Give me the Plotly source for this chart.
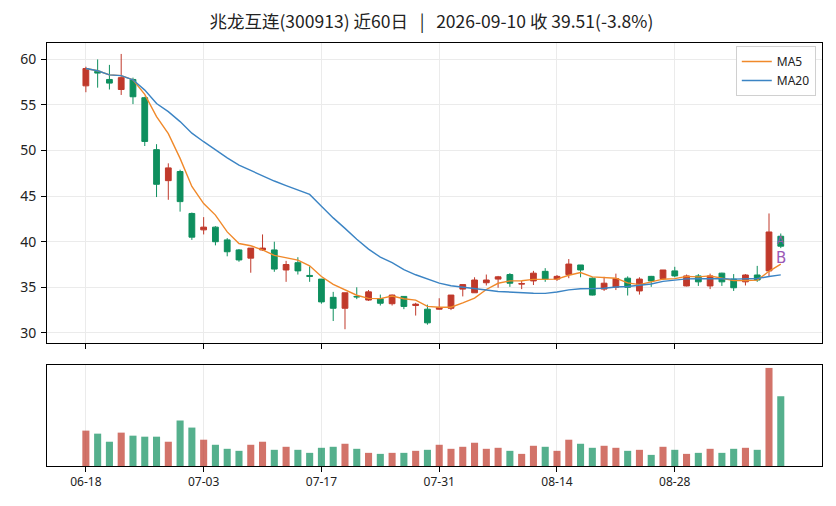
import pandas as pd
import plotly.graph_objects as go
from plotly.subplots import make_subplots

# 交易日 (06-19 端午休市)
dates = ["06-18", "06-22", "06-23", "06-24", "06-25", "06-26", "06-29", "06-30",
         "07-01", "07-02", "07-03", "07-06", "07-07", "07-08", "07-09", "07-10",
         "07-13", "07-14", "07-15", "07-16", "07-17", "07-20", "07-21", "07-22",
         "07-23", "07-24", "07-27", "07-28", "07-29", "07-30", "07-31", "08-03",
         "08-04", "08-05", "08-06", "08-07", "08-10", "08-11", "08-12", "08-13",
         "08-14", "08-17", "08-18", "08-19", "08-20", "08-21", "08-24", "08-25",
         "08-26", "08-27", "08-28", "08-31", "09-01", "09-02", "09-03", "09-04",
         "09-07", "09-08", "09-09", "09-10"]

opens = [57.1, 58.7, 57.8, 56.7, 57.8, 55.8, 50.1, 46.7, 47.7, 43.1,
         41.3, 41.6, 40.2, 39.1, 38.2, 39.1, 39.1, 36.9, 37.7, 36.3,
         35.9, 33.9, 32.7, 34.0, 33.6, 33.75, 33.2, 34.0, 33.0, 32.6,
         32.6, 32.7, 34.8, 34.4, 35.5, 35.9, 36.4, 35.35, 35.7, 36.75,
         35.9, 36.4, 37.45, 36.0, 34.8, 35.0, 36.0, 34.6, 36.2, 35.95,
         36.8, 35.15, 36.25, 35.15, 36.55, 35.9, 35.6, 36.35, 36.8, 40.6]
highs = [59.2, 60.0, 59.4, 60.6, 58.0, 55.9, 50.7, 48.6, 47.9, 43.2,
         42.7, 41.7, 40.4, 39.2, 39.3, 40.8, 40.0, 37.9, 38.3, 37.3,
         35.9, 34.5, 34.4, 35.0, 34.7, 34.2, 34.2, 34.0, 33.3, 33.1,
         33.8, 34.15, 35.3, 36.1, 36.4, 36.25, 36.55, 35.7, 36.8, 37.1,
         36.35, 38.1, 37.45, 36.1, 36.15, 36.5, 36.2, 36.1, 36.25, 36.9,
         37.25, 36.4, 36.45, 36.5, 36.6, 36.45, 36.45, 37.35, 43.1, 40.9]
lows = [56.4, 56.9, 56.7, 56.1, 55.1, 50.5, 44.9, 44.6, 43.3, 40.2,
        40.8, 39.6, 38.4, 37.8, 36.6, 39.0, 36.7, 35.6, 36.4, 35.6,
        33.2, 31.3, 30.4, 33.7, 33.5, 33.0, 33.0, 32.6, 31.9, 30.9,
        32.55, 32.5, 34.0, 34.4, 35.2, 34.95, 35.05, 34.8, 35.25, 35.6,
        35.7, 36.0, 36.1, 34.1, 34.6, 34.7, 34.1, 34.2, 35.05, 35.8,
        36.1, 35.1, 35.15, 34.8, 35.15, 34.6, 35.2, 35.6, 36.15, 39.3]
closes = [59.0, 58.5, 57.4, 58.0, 55.9, 51.0, 46.3, 48.1, 44.4, 40.5,
          41.6, 40.0, 38.9, 38.0, 39.3, 39.3, 37.0, 37.5, 36.8, 36.2,
          33.4, 32.7, 34.4, 33.95, 34.5, 33.25, 34.15, 32.9, 33.15, 31.1,
          32.75, 34.15, 35.3, 35.8, 35.8, 36.15, 35.45, 35.4, 36.55, 35.9,
          36.2, 37.55, 36.9, 34.15, 35.45, 35.95, 35.0, 35.9, 35.7, 36.9,
          36.25, 36.25, 35.6, 36.25, 35.6, 34.95, 36.35, 35.8, 41.07, 39.51]
volumes = [35, 32, 24, 33, 30, 29, 29, 24, 45, 38,
           26, 21, 17, 15, 21, 24, 16, 19, 16, 13,
           18, 19, 22, 17, 13, 12, 13, 13, 15, 16,
           21, 17, 19, 23, 17, 18, 15, 12, 20, 19,
           15, 26, 22, 18, 20, 18, 15, 16, 11, 19,
           16, 12, 13, 17, 13, 17, 18, 16, 97, 69]

tick_dates = ["06-18", "07-03", "07-17", "07-31", "08-14", "08-28"]

df = pd.DataFrame({"date": dates, "open": opens, "high": highs,
                   "low": lows, "close": closes, "volume": volumes})
df["ma5"] = df["close"].rolling(5, min_periods=1).mean()
df["ma20"] = df["close"].rolling(20, min_periods=1).mean()

RED = "#c0392b"
GREEN = "#0e8f5e"
vol_colors = [RED if c >= o else GREEN for o, c in zip(df["open"], df["close"])]

FONT = "Noto Sans, Noto Sans CJK SC, sans-serif"

fig = make_subplots(rows=2, cols=1, shared_xaxes=True)

fig.add_trace(go.Candlestick(
    x=df["date"], open=df["open"], high=df["high"], low=df["low"], close=df["close"],
    increasing=dict(line=dict(color=RED, width=1), fillcolor=RED),
    decreasing=dict(line=dict(color=GREEN, width=1), fillcolor=GREEN),
    whiskerwidth=0, showlegend=False, name="K"), row=1, col=1)

fig.add_trace(go.Scatter(x=df["date"], y=df["ma5"], mode="lines", name="MA5",
                         line=dict(color="#f0892a", width=1.4)), row=1, col=1)
fig.add_trace(go.Scatter(x=df["date"], y=df["ma20"], mode="lines", name="MA20",
                         line=dict(color="#3b84c4", width=1.4)), row=1, col=1)

fig.add_trace(go.Bar(x=df["date"], y=df["volume"], marker=dict(color=vol_colors, line_width=0),
                     opacity=0.7, width=0.6, showlegend=False, name="VOL"), row=2, col=1)

# 买卖点标记
fig.add_annotation(x=dates[-1], y=40.1, text="A", showarrow=False, xref="x", yref="y",
                   font=dict(color="#9b59b6", size=10, family="DejaVu Sans"))
fig.add_annotation(x=dates[-1], y=38.2, text="B", showarrow=False, xref="x", yref="y",
                   font=dict(color="#9b59b6", size=15, family="DejaVu Sans"))

last = df.iloc[-1]
pct = (last["close"] / df["close"].iloc[-2] - 1) * 100
sep = "\u00a0\u00a0\u00a0|\u00a0\u00a0\u00a0"
title = f"兆龙互连(300913) 近60日{sep}2026-09-10 收 {last['close']:.2f}({pct:.1f}%)"

axis_common = dict(showline=True, linecolor="black", linewidth=1, mirror=True,
                   ticks="outside", tickcolor="black", ticklen=5,
                   gridcolor="#ebebeb", zeroline=False)

fig.update_layout(
    width=836, height=506,
    margin=dict(l=37, r=22, t=35, b=48),
    paper_bgcolor="white", plot_bgcolor="white",
    font=dict(family=FONT, color="#222", size=13),
    title=dict(text=title, x=0.496, xref="paper", y=0.972, yref="container",
               xanchor="center", yanchor="middle",
               font=dict(size=17.5, color="#222", family="Noto Sans CJK SC")),
    legend=dict(x=0.992, y=0.993, xanchor="right", yanchor="top", bgcolor="white",
                bordercolor="#d0d0d0", borderwidth=1, font=dict(size=12),
                tracegroupgap=0, itemwidth=30),
    bargap=0.4,
)
fig.update_xaxes(type="category", range=[-3.3, 62.5], tickvals=tick_dates, ticktext=tick_dates,
                 showgrid=True, rangeslider_visible=False, **axis_common)
fig.update_xaxes(showticklabels=False, row=1, col=1)
fig.update_xaxes(tickfont=dict(size=12), row=2, col=1)
fig.update_yaxes(range=[28.9, 61.8], tickvals=[30, 35, 40, 45, 50, 55, 60],
                 tickfont=dict(size=14), ticklabelstandoff=2,
                 showgrid=True, **axis_common, row=1, col=1)
fig.update_yaxes(range=[0, 100], showgrid=False, showticklabels=False, ticks="",
                 showline=True, linecolor="black", mirror=True, zeroline=False, row=2, col=1)
fig.update_layout(yaxis=dict(domain=[0.291, 1.0]), yaxis2=dict(domain=[0.0, 0.239]))

fig.write_html("out.html")
